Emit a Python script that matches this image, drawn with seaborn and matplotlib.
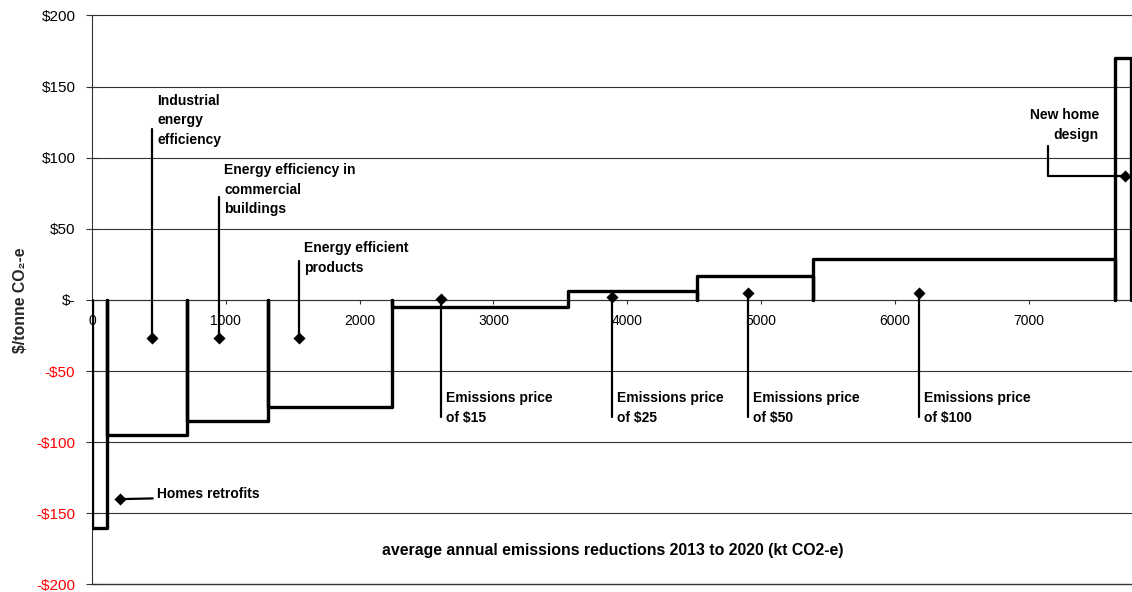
import matplotlib
matplotlib.use("Agg")
import matplotlib.pyplot as plt
import seaborn as sns
import pandas as pd

# Abatement blocks: boundaries (kt CO2-e, cumulative) and cost of each block ($/tonne)
block_edges = [0, 112, 710, 1315, 2242, 3557, 4522, 5389, 7646, 7768]
block_costs = [-160, -95, -85, -75, -5, 6, 17, 29, 170]

# Labelled points on the curve
label_names = ["Homes retrofits", "Industrial\nenergy\nefficiency",
               "Energy efficiency in\ncommercial\nbuildings", "Energy efficient\nproducts",
               "Emissions price\nof $15", "Emissions price\nof $25",
               "Emissions price\nof $50", "Emissions price\nof $100", "New home\ndesign"]
label_x = [212, 448, 951, 1549, 2608, 3884, 4905, 6183, 7720]
label_y = [-140, -27, -27, -27, 1, 2, 5, 5, 87]

x_ticks = [0, 1000, 2000, 3000, 4000, 5000, 6000, 7000]
y_ticks = [-200, -150, -100, -50, 0, 50, 100, 150, 200]
y_ticklabels = ["-$200", "-$150", "-$100", "-$50", "$-", "$50", "$100", "$150", "$200"]

sns.set_theme(style="white")
plt.rcParams["font.family"] = ["Liberation Sans", "DejaVu Sans"]

fig = plt.figure(figsize=(11.32, 5.92), dpi=100)
ax = fig.add_axes([0.0813, 0.0127, 0.9187, 0.9613])

# Step outline: each block drawn from zero up/down to its cost and back
px, py = [], []
for a, b, v in zip(block_edges[:-1], block_edges[1:], block_costs):
    px += [a, a, b, b]
    py += [0, v, v, 0]
curve = pd.DataFrame({"x": px, "y": py})
sns.lineplot(data=curve, x="x", y="y", sort=False, estimator=None, color="black",
             linewidth=2.4, ax=ax, zorder=3)

# Leader lines for labels
lw_lead = 1.6
ax.plot([label_x[0], 454], [label_y[0], -139.5], color="black", lw=lw_lead, zorder=4)
for i, top in zip([1, 2, 3], [120, 72.6, 27.4]):
    ax.plot([label_x[i], label_x[i]], [label_y[i], top], color="black", lw=lw_lead, zorder=4)
for i in [4, 5, 6, 7]:
    ax.plot([label_x[i], label_x[i]], [label_y[i], -82], color="black", lw=lw_lead, zorder=4)
ax.plot([label_x[8], 7147, 7147], [label_y[8], label_y[8], 108.3], color="black",
        lw=lw_lead, zorder=4)

pts = pd.DataFrame({"x": label_x, "y": label_y})
sns.scatterplot(data=pts, x="x", y="y", marker="D", s=38, color="black",
                edgecolor="black", linewidth=0, ax=ax, zorder=5)

fs = 10
txt = dict(fontsize=fs, fontweight="bold", color="black", linespacing=1.52, zorder=6)
ax.text(488, -136.4, label_names[0], ha="left", va="center", **txt)
ax.text(486, 145, label_names[1], ha="left", va="top", **txt)
ax.text(987, 96.3, label_names[2], ha="left", va="top", **txt)
ax.text(1587, 41.1, label_names[3], ha="left", va="top", **txt)
for i in [4, 5, 6, 7]:
    ax.text(label_x[i] + 37, -64, label_names[i], ha="left", va="top", **txt)
ax.text(7526, 135, label_names[8], ha="right", va="top", multialignment="right", **txt)

# Axis title placed inside the plot area
ax.text(3894, -176, "average annual emissions reductions 2013 to 2020 (kt CO2-e)",
        ha="center", va="center", fontsize=11.4, fontweight="bold", color="black")

ax.set_xlim(0, 7773)
ax.set_ylim(-200, 200)
ax.set_xlabel("")
ax.set_ylabel("$/tonne CO₂-e", fontsize=11.4, fontweight="bold", labelpad=6)

# Horizontal grid
for yv in y_ticks:
    ax.axhline(yv, color="#333333", lw=1.0 if yv == -200 else 0.8, zorder=1,
               clip_on=False)

for side in ["top", "right"]:
    ax.spines[side].set_visible(False)
ax.spines["left"].set_color("#333333")
ax.spines["left"].set_linewidth(0.8)
ax.spines["bottom"].set_position(("data", 0))
ax.spines["bottom"].set_color("#333333")
ax.spines["bottom"].set_linewidth(0.8)

ax.set_xticks(x_ticks)
ax.set_xticklabels([str(t) for t in x_ticks])
ax.set_yticks(y_ticks)
ax.set_yticklabels(y_ticklabels)
ax.tick_params(axis="x", direction="out", length=3, width=0.8, color="#333333",
               pad=7, labelsize=fs, labelcolor="black", bottom=True)
ax.tick_params(axis="y", direction="inout", length=8, width=0.8, color="#333333",
               pad=8, labelsize=11, left=True)
for lab, v in zip(ax.get_yticklabels(), y_ticks):
    lab.set_color("#ff0000" if v < 0 else "black")

fig.savefig("out.png", dpi=100)
